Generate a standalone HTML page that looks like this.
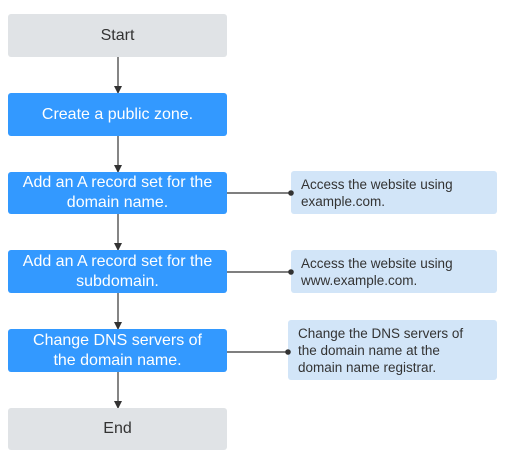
<!DOCTYPE html>
<html><head><style>
body{margin:0;width:506px;height:464px;background:#fff;position:relative;font-family:"Liberation Sans",sans-serif;overflow:hidden}
.b{position:absolute;left:8px;width:219px;border-radius:3px;display:flex;align-items:center;justify-content:center;text-align:center;font-size:16px;line-height:20px}
.g{background:#e0e3e6;color:#333}
.u{background:#3399ff;color:#fff}
.s{position:absolute;background:#d2e5f8;border-radius:3px;color:#333;font-size:13.5px;line-height:17px;padding-left:10px;box-sizing:border-box;display:flex;align-items:center}
</style></head><body>
<svg width="506" height="464" style="position:absolute;left:0;top:0">
<defs><marker id="a" markerWidth="8" markerHeight="8" refX="7" refY="4" orient="auto" markerUnits="userSpaceOnUse"><path d="M0,0L8,4L0,8z" fill="#333"/></marker></defs>
<g stroke="#333" stroke-width="1.2" fill="none">
<line x1="118" y1="57" x2="118" y2="93" marker-end="url(#a)"/>
<line x1="118" y1="136" x2="118" y2="172" marker-end="url(#a)"/>
<line x1="118" y1="214" x2="118" y2="250" marker-end="url(#a)"/>
<line x1="118" y1="293" x2="118" y2="329" marker-end="url(#a)"/>
<line x1="118" y1="372" x2="118" y2="408" marker-end="url(#a)"/>
<line x1="227" y1="193" x2="291" y2="193"/>
<line x1="227" y1="272" x2="291" y2="272"/>
<line x1="227" y1="352" x2="288" y2="352"/>
</g>
</svg>
<div class="b g" style="top:14px;height:43px">Start</div>
<div class="b u" style="top:93px;height:43px">Create a public zone.</div>
<div class="b u" style="top:172px;height:42px">Add an A record set for the<br>domain name.</div>
<div class="b u" style="top:250px;height:43px">Add an A record set for the<br>subdomain.</div>
<div class="b u" style="top:329px;height:43px">Change DNS servers of<br>the domain name.</div>
<div class="b g" style="top:408px;height:42px">End</div>
<div class="s" style="left:291px;top:171px;width:206px;height:43px">Access the website using<br>example.com.</div>
<div class="s" style="left:291px;top:250px;width:206px;height:43px">Access the website using<br>www.example.com.</div>
<div class="s" style="left:288px;top:320px;width:209px;height:60px">Change the DNS servers of<br>the domain name at the<br>domain name registrar.</div>
<svg width="506" height="464" style="position:absolute;left:0;top:0">
<g fill="#333"><circle cx="291" cy="193" r="2.8"/><circle cx="291" cy="272" r="2.8"/><circle cx="288" cy="352" r="2.8"/></g>
</svg>
</body></html>
